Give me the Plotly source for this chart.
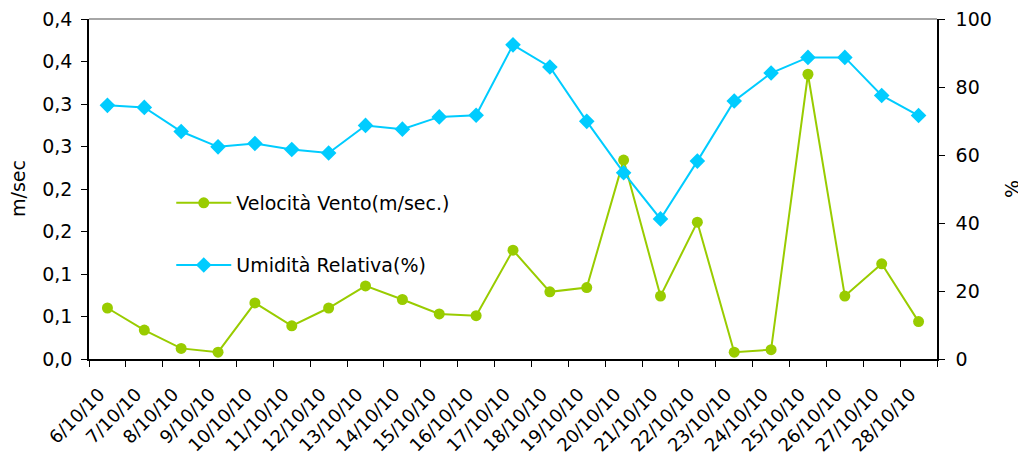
import plotly.graph_objects as go

dates = ["6/10/10", "7/10/10", "8/10/10", "9/10/10", "10/10/10", "11/10/10", "12/10/10",
         "13/10/10", "14/10/10", "15/10/10", "16/10/10", "17/10/10", "18/10/10", "19/10/10",
         "20/10/10", "21/10/10", "22/10/10", "23/10/10", "24/10/10", "25/10/10", "26/10/10",
         "27/10/10", "28/10/10"]
vento = [0.060, 0.034, 0.0125, 0.008, 0.066, 0.039, 0.060,
         0.086, 0.070, 0.053, 0.051, 0.128, 0.079, 0.084,
         0.234, 0.074, 0.161, 0.008, 0.011, 0.335, 0.074,
         0.112, 0.044]
umidita = [74.6, 74.0, 66.9, 62.4, 63.4, 61.6, 60.6,
           68.7, 67.6, 71.2, 71.7, 92.4, 85.9, 69.9,
           54.8, 41.2, 58.2, 75.9, 84.1, 88.7, 88.7,
           77.5, 71.6]
left_tickvals = [0, 0.05, 0.10, 0.15, 0.20, 0.25, 0.30, 0.35, 0.40]
left_ticktext = ["0,0", "0,1", "0,1", "0,2", "0,2", "0,3", "0,3", "0,4", "0,4"]
right_tickvals = [0, 20, 40, 60, 80, 100]

GREEN = "#99CC00"
BLUE = "#00CCFF"
FONT = "DejaVu Sans"

fig = go.Figure()
fig.add_trace(go.Scatter(
    x=dates, y=vento, name="Velocità Vento(m/sec.)", mode="lines+markers",
    line=dict(color=GREEN, width=2), marker=dict(symbol="circle", size=11, color=GREEN),
    legend="legend", yaxis="y"))
fig.add_trace(go.Scatter(
    x=dates, y=umidita, name="Umidità Relativa(%)", mode="lines+markers",
    line=dict(color=BLUE, width=2), marker=dict(symbol="diamond", size=12, color=BLUE),
    legend="legend2", yaxis="y2"))

legend_common = dict(font=dict(family=FONT, size=19, color="#000"), bgcolor="rgba(0,0,0,0)",
                     xanchor="left", yanchor="middle", itemwidth=55)

# page body adds an 8px offset; size compensated so the plot area sits at 89..937 x 19..359
fig.update_layout(
    width=1018, height=451,
    margin=dict(l=81, r=89, t=11, b=100),
    paper_bgcolor="white", plot_bgcolor="white",
    font=dict(family=FONT, size=18, color="#000"),
    showlegend=True,
    legend=dict(x=0.097, y=0.459, **legend_common),
    legend2=dict(x=0.097, y=0.276, **legend_common),
    xaxis=dict(type="category", range=[-0.5, len(dates) - 0.5], tickangle=-45,
               tickson="boundaries", ticks="outside",
               ticklen=6, tickcolor="#000", showline=True, linecolor="#000", linewidth=1.5,
               showgrid=False, mirror=False, tickfont=dict(size=18), automargin=False,
               ticklabelstandoff=16, ticklabelshift=-8, ticklabeloverflow="allow"),
    yaxis=dict(range=[0, 0.4], tickvals=left_tickvals, ticktext=left_ticktext,
               ticks="outside", ticklen=6, tickcolor="#000", showline=True, linecolor="#000",
               linewidth=1.5, showgrid=False, zeroline=False, tickfont=dict(size=19),
               automargin=False, ticklabelstandoff=5, ticklabeloverflow="allow"),
    yaxis2=dict(range=[0, 100], tickvals=right_tickvals, overlaying="y", side="right",
                ticks="outside", ticklen=6, tickcolor="#000", showline=True, linecolor="#000",
                linewidth=1.5, showgrid=False, zeroline=False, tickfont=dict(size=19),
                automargin=False, ticklabelstandoff=7, ticklabeloverflow="allow"),
    shapes=[dict(type="line", xref="paper", yref="paper", x0=0, x1=1, y0=1, y1=1,
                 line=dict(color="#888888", width=1.5))],
    annotations=[
        dict(text="m/sec", xref="paper", yref="paper", x=(18 - 89) / 848, y=0.5,
             textangle=-90, showarrow=False, font=dict(size=19), xanchor="center", yanchor="middle"),
        dict(text="%", xref="paper", yref="paper", x=(1012 - 89) / 848, y=0.5,
             textangle=-90, showarrow=False, font=dict(size=19), xanchor="center", yanchor="middle"),
    ],
)

fig.write_html("out.html")
